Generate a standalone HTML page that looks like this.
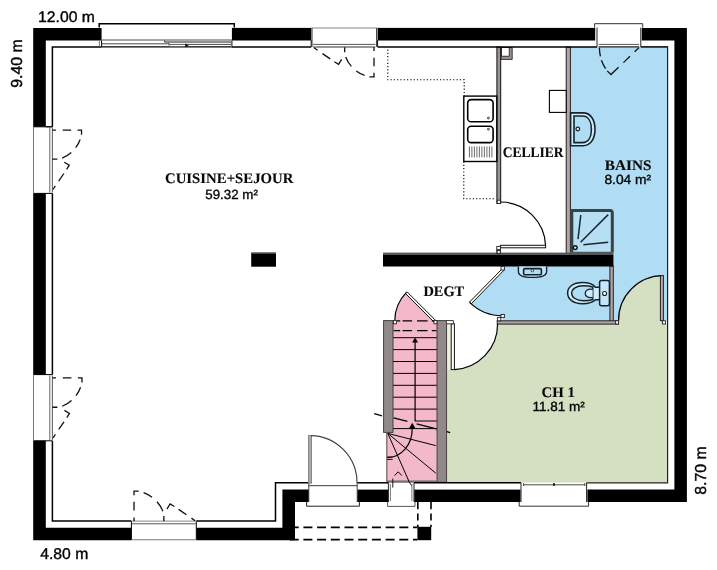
<!DOCTYPE html>
<html lang="fr">
<head>
<meta charset="utf-8">
<title>Plan RDC</title>
<style>
html,body{margin:0;padding:0;background:#fff;}
body{width:717px;height:570px;overflow:hidden;}
svg{display:block;filter:blur(0.4px);}
text{text-rendering:geometricPrecision;}
.dim{font-family:"Liberation Sans",sans-serif;font-size:15.3px;fill:#050505;stroke:#050505;stroke-width:0.38;}
.area{font-family:"Liberation Sans",sans-serif;font-size:13.3px;fill:#050505;stroke:#050505;stroke-width:0.35;}
.room{font-family:"Liberation Serif",serif;font-weight:bold;font-size:14.6px;fill:#0a0a0a;stroke:#0a0a0a;stroke-width:0.12;}
.k{stroke:#000;fill:none;}
.g{stroke:#777;fill:none;}
.dash{stroke:#111;fill:none;stroke-width:1.3;stroke-dasharray:7 4;}
</style>
</head>
<body>
<svg width="717" height="570" viewBox="0 0 717 570">
<rect width="717" height="570" fill="#fff"/>

<!-- FILLS -->
<g id="fills">
  <rect x="570.4" y="47" width="97.3" height="220" fill="#b0ddf4"/>
  <rect x="502.6" y="266" width="165.1" height="55" fill="#b0ddf4"/>
  <path d="M503.6,268.2 H502.7 L469.7,302 A47.5,47.5 0 0 0 502.7,315.8 H503.6 Z" fill="#b0ddf4"/>
  <rect x="447" y="324" width="220.7" height="158.6" fill="#d5e0c3"/>
  <path d="M618.5,321 A44.6,44.6 0 0 1 663,275.6 L663,325 L618.5,325 Z" fill="#d5e0c3"/>
  <path d="M453,323.4 L497.6,323.4 A45.6,45.6 0 0 1 453,369.6 Z" fill="#fff"/>
  <rect x="447.2" y="324" width="4" height="45.6" fill="#eef0dc"/>
  <rect x="393" y="321" width="44" height="112" fill="#f4b9c9"/>
  <rect x="386.6" y="432" width="50" height="49.5" fill="#f4b9c9"/>
  <path d="M435.3,321 L406.5,292.3 A40.6,40.6 0 0 0 394.7,321 Z" fill="#f4b9c9"/>
</g>

<!-- STAIR / PARTITION WALLS (grey) -->
<g id="partitions">
  <rect x="383.6" y="320.6" width="9.4" height="111.8" fill="#918989" stroke="#3a3434" stroke-width="0.9"/>
  <rect x="437" y="320.6" width="9.6" height="161.6" fill="#918989" stroke="#3a3434" stroke-width="0.9"/>
  <rect x="386.2" y="432" width="1.2" height="50" fill="#6a6262"/>
  <rect x="387" y="480.4" width="50" height="2.4" fill="#7a7272"/>
  <!-- cellier left wall -->
  <rect x="496.9" y="47" width="3.8" height="156.4" fill="#9a9494" stroke="#111" stroke-width="1"/>
  <!-- cellier / bains wall -->
  <rect x="566.2" y="47" width="4.2" height="206.5" fill="#b5a2a4" stroke="#222" stroke-width="1"/>
  <!-- wc right wall -->
  <rect x="609.9" y="266" width="3.4" height="56" fill="#b5a2a4" stroke="#222" stroke-width="1"/>
  <!-- wc bottom wall -->
  <rect x="497.2" y="320.8" width="121.2" height="3.3" fill="#b5a2a4" stroke="#222" stroke-width="1"/>
  <!-- duct in cellier -->
  <path d="M501,47.5 H512.2 V59.4 H501 Z" fill="#9a9494" stroke="#111" stroke-width="0.8"/>
  <rect x="501.6" y="47.6" width="7.6" height="8.6" fill="#fff" stroke="#111" stroke-width="0.8"/>
</g>

<!-- OUTER WALLS (black) -->
<g id="walls" fill="#000">
  <path d="M33.2,27.9 H101.6 V40.5 H45.8 V126.8 H33.2 Z"/>
  <rect x="231.9" y="27.9" width="79.3" height="12.6"/>
  <rect x="377.6" y="27.9" width="217.6" height="12.6"/>
  <path d="M641.8,27.9 H686.9 V502 H587.4 V489.6 H674.4 V40.5 H641.8 Z"/>
  <rect x="33.2" y="193.4" width="12.6" height="181.2"/>
  <path d="M33.2,440.8 H45.8 V527.7 H131.2 V540.3 H33.2 Z"/>
  <path d="M196.5,527.7 H282.4 V489.6 H308.8 V502 H295 V540.3 H196.5 Z"/>
  <rect x="357.3" y="489.6" width="31" height="12.4"/>
  <rect x="414.2" y="489.6" width="106.3" height="12.4"/>
  <!-- interior -->
  <rect x="383" y="254.4" width="230.4" height="12.1"/>
  <rect x="251.2" y="252.8" width="24.8" height="13.9"/>
  <rect x="417.4" y="526.8" width="13.8" height="13.4"/>
</g>
<rect x="383" y="252.6" width="230.4" height="2" fill="#555"/>
<rect x="251.2" y="252.4" width="24.8" height="1.4" fill="#555"/>

<!-- INNER WALL FACE LINE -->
<g id="inner" class="k" stroke-width="1.5">
  <path d="M52.4,126.8 V46.9 H101.6"/>
  <path d="M231.9,46.9 H311.2"/>
  <path d="M377.6,46.9 H597"/>
  <path d="M640.8,46.9 H667.6"/>
  <path d="M667.6,46.2 V482.8" stroke="#222" stroke-width="1.2"/>
  <path d="M52.4,193.4 V374.6"/>
  <path d="M52.4,440.8 V521.1 H131.4"/>
  <path d="M196.3,521.1 H275.5 V482.8 H308.6"/>
  <path d="M357.3,482.8 H388.4"/>
  <path d="M414,482.8 H521" stroke-width="1.4"/>
  <path d="M586.6,482.8 H668.2" stroke="#222" stroke-width="1.3"/>
</g>
<!-- wall end caps -->
<g class="k" stroke-width="1">
  <path d="M45.8,126.8 H52.4 M33.2,126.8 H52.4 M33.2,193.4 H52.4 M33.2,374.6 H52.4 M33.2,440.8 H52.4"/>
  <path d="M101.6,40.2 V46.9 M231.9,40.2 V46.9 M311.2,40.2 V46.9 M377.6,40.2 V46.9"/>
  <path d="M131.4,521.1 V540 M196.3,521.1 V540"/>
</g>

<!-- WINDOWS -->
<g id="windows">
  <!-- top sliding window -->
  <g class="k" stroke-width="1">
    <path d="M99.2,27.6 V23.8 H234.3 V27.6" stroke-width="1.5"/>
    <path d="M101.6,46.9 H231.9" stroke-width="1.1"/>
    <path d="M101.6,43.8 H168.8 V44.4 H231.6" stroke="#333" stroke-width="0.9"/>
    <path d="M101.6,40 H231.9" stroke="#888" stroke-width="1.5"/>
    <path d="M164.6,40.6 V42 H231.6" stroke="#222" stroke-width="1"/>
    <path d="M168.8,42.2 V44.2" stroke="#555" stroke-width="0.7"/>
    <rect x="169.2" y="44.5" width="16.4" height="1.9" fill="#fff" stroke="#444" stroke-width="0.6"/>
    <path d="M185.2,43.5 L188.8,45.5 L185.2,47.3 Z" fill="#111" stroke="none"/>
    <path d="M99.4,41 V46.9 H101.6" stroke="#555" stroke-width="0.8"/>
    <path d="M231.4,41 V46.9" stroke="#777" stroke-width="0.8"/>
  </g>
  <!-- top french window -->
  <g class="g" stroke-width="1">
    <path d="M311.2,28 H377.6" stroke="#888" stroke-width="1.2"/>
    <path d="M312,28 V46.9 M376.6,28 V46.9" stroke="#333"/>
    <path d="M313,44.4 H375.4" stroke="#444" stroke-width="0.9"/>
    <path d="M313,47 H375.4" stroke="#333" stroke-width="1.1"/>
  </g>
  <!-- bains window -->
  <g class="k" stroke-width="1">
    <path d="M594.6,27.6 V23.7 H642.7 V27.6" stroke="#333" stroke-width="1"/>
    <path d="M597,27.6 V46.9 M640.8,27.6 V46.9" stroke="#222"/>
    <path d="M598.6,44.4 H639.2" stroke="#444" stroke-width="0.9"/>
    <path d="M598.6,46.9 H639.2" stroke="#222" stroke-width="1.1"/>
  </g>
  <!-- left window 1 -->
  <g class="g" stroke-width="1">
    <path d="M33.5,126.8 V193.4" stroke="#777" stroke-width="1"/>
    <path d="M49.8,127.6 V192.6" stroke="#555" stroke-width="0.9"/>
    <path d="M52.4,127.6 V192.6" stroke="#666" stroke-width="1.1"/>
  </g>
  <!-- left window 2 -->
  <g class="g" stroke-width="1">
    <path d="M33.5,374.6 V440.8" stroke="#777" stroke-width="1"/>
    <path d="M49.8,375.4 V440" stroke="#555" stroke-width="0.9"/>
    <path d="M52.4,375.4 V440" stroke="#666" stroke-width="1.1"/>
  </g>
  <!-- bottom window 1 -->
  <g class="g" stroke-width="1">
    <path d="M131.4,521.1 H196.3" stroke="#888" stroke-width="1"/>
    <path d="M132,523.8 H195.8" stroke="#444" stroke-width="0.9"/>
    <path d="M131.4,539.8 H196.3" stroke="#777" stroke-width="1.1"/>
  </g>
  <!-- entry door frame -->
  <g class="k" stroke-width="1">
    <path d="M308.6,485.7 H357.3" stroke="#222" stroke-width="0.9"/>
    <path d="M308.8,482.8 V502 M357.2,482.8 V502" stroke="#333" stroke-width="0.9"/>
    <path d="M306.6,502 V506.2 H359.4 V502" stroke="#222" stroke-width="1"/>
  </g>
  <!-- stair window -->
  <g class="k" stroke-width="1">
    <path d="M388.4,482.8 V502 M414,482.8 V502" stroke="#222" stroke-width="1"/>
    <path d="M390.4,484 V501 M411.9,484 V501" stroke="#555" stroke-width="0.8"/>
    <path d="M387.6,502 V506.4 H415 V502" stroke="#444" stroke-width="0.9"/>
  </g>
  <!-- CH1 window -->
  <g class="k" stroke-width="1">
    <path d="M521,482.8 V502 M586.6,482.8 V502" stroke="#222" stroke-width="1"/>
    <path d="M523.2,484.8 H585.2" stroke="#333" stroke-width="0.9"/>
    <path d="M554,483 V486" stroke="#111" stroke-width="1.6"/>
    <path d="M523.6,483 V486 M584.8,483 V486" stroke="#333" stroke-width="0.8"/>
    <path d="M519.2,502 V506.2 H588.6 V502" stroke="#333" stroke-width="1"/>
  </g>
</g>

<!-- DASHED SWINGS -->
<g id="swings" stroke="#111" fill="none" stroke-width="1.3">
  <g transform="translate(314,47.5)">
    <path d="M0,0.3 L3.6,2.8 M8.5,6.1 L16.2,11.4 M20.4,14.2 L24.6,16.8 L27.6,11.8"/>
    <path d="M30.7,-0.3 V4.8 M31.7,9.6 A29.4,29.4 0 0 0 37.4,18.9 M42.3,23.4 A29.4,29.4 0 0 0 50.6,27.9"/>
    <path d="M55.4,29.3 H60 V25.2 M60,18.8 V10.2 M60,3.4 V-0.3"/>
  </g>
  <g transform="translate(52.6,189.5) rotate(-90) scale(0.988)">
    <path d="M0,0.3 L3.6,2.8 M8.5,6.1 L16.2,11.4 M20.4,14.2 L24.6,16.8 L27.6,11.8"/>
    <path d="M30.7,-0.3 V4.8 M31.7,9.6 A29.4,29.4 0 0 0 37.4,18.9 M42.3,23.4 A29.4,29.4 0 0 0 50.6,27.9"/>
    <path d="M55.4,29.3 H60 V25.2 M60,18.8 V10.2 M60,3.4 V-0.3"/>
  </g>
  <g transform="translate(52.6,438) rotate(-90) scale(1.002)">
    <path d="M0,0.3 L3.6,2.8 M8.5,6.1 L16.2,11.4 M20.4,14.2 L24.6,16.8 L27.6,11.8"/>
    <path d="M30.7,-0.3 V4.8 M31.7,9.6 A29.4,29.4 0 0 0 37.4,18.9 M42.3,23.4 A29.4,29.4 0 0 0 50.6,27.9"/>
    <path d="M55.4,29.3 H60 V25.2 M60,18.8 V10.2 M60,3.4 V-0.3"/>
  </g>
  <g transform="translate(195.1,521) rotate(180) scale(1.018)">
    <path d="M0,0.3 L3.6,2.8 M8.5,6.1 L16.2,11.4 M20.4,14.2 L24.6,16.8 L27.6,11.8"/>
    <path d="M30.7,-0.3 V4.8 M31.7,9.6 A29.4,29.4 0 0 0 37.4,18.9 M42.3,23.4 A29.4,29.4 0 0 0 50.6,27.9"/>
    <path d="M55.4,29.3 H60 V25.2 M60,18.8 V10.2 M60,3.4 V-0.3"/>
  </g>
  <!-- bains window -->
  <path d="M639,47.6 L634.6,51.8 M630,56.2 L623.4,62.6 M618.6,67.2 L611,74.5 L607.2,70.9"/>
  <path d="M605.6,68.6 A39.4,39.4 0 0 1 601.4,60.2 M600.4,56.4 A39.4,39.4 0 0 1 599.4,47.8"/>
</g>
<!-- porch dashed -->
<g class="k" stroke="#111" stroke-width="1.7" stroke-dasharray="9 4.7">
  <path d="M289.7,527.3 H417.4"/>
  <path d="M289.7,539.7 H417.4"/>
  <path d="M417.8,502 V527 M431,502 V527" stroke-dasharray="7.2 4.2" stroke-width="1.6"/>
</g>
<!-- kitchen dotted -->
<g class="k" stroke="#333" stroke-width="1.1" stroke-dasharray="1.2 2.1">
  <path d="M387.8,49.5 V79.8 H464.2 V96"/>
  <path d="M463.8,161.5 V198.7 H495.5"/>
</g>

<!-- DOORS -->
<g id="doors" class="k" stroke-width="1.1">
  <!-- cellier door -->
  <path d="M500.6,202 A45.2,45.2 0 0 1 545.6,246" stroke-width="1.2"/>
  <rect x="500.6" y="245.3" width="45" height="2.5" fill="#fff" stroke="#111" stroke-width="1"/>
  <rect x="496.8" y="246.4" width="3.6" height="3.4" fill="#fff" stroke="#222" stroke-width="0.9"/>
  <rect x="496.8" y="249.8" width="3.6" height="3.2" fill="#fff" stroke="#222" stroke-width="0.9"/>
  <rect x="497.2" y="200.2" width="3.2" height="3.2" fill="#fff" stroke="#222" stroke-width="0.9"/>
  <!-- wc door -->
  <path d="M502.2,268.8 L469.4,302.2 L471.2,303.8 L503.8,270.4 Z" fill="#fff" stroke="#111" stroke-width="1"/>
  <path d="M469.6,302.4 A47.4,47.4 0 0 0 502.6,315.8" stroke-width="1.2"/>
  <rect x="501" y="266.6" width="3.4" height="3.4" fill="#fff" stroke="#222" stroke-width="0.9"/>
  <rect x="501" y="314.4" width="3.4" height="3.2" fill="#fff" stroke="#222" stroke-width="0.9"/>
  <rect x="497.4" y="317.6" width="3.4" height="3.2" fill="#fff" stroke="#222" stroke-width="0.9"/>
  <rect x="497.2" y="250.6" width="3" height="3" fill="#fff" stroke="#222" stroke-width="0.9"/>
  <!-- DEGT / CH1 door -->
  <rect x="451.2" y="323.8" width="3.2" height="45.8" fill="#fff" stroke="#111" stroke-width="1"/>
  <path d="M454.4,369.6 A45.6,45.6 0 0 0 497.6,324" stroke-width="1.2"/>
  <path d="M447,320.6 H453.4 V323.8 H447" fill="#fff" stroke="#222" stroke-width="0.9"/>
  <!-- stair door -->
  <path d="M435.6,320.4 L407,291.8 L405.4,293.4 L434,322 Z" fill="#fff" stroke="#111" stroke-width="1"/>
  <path d="M406.2,292.6 A40.6,40.6 0 0 0 394.8,320.6" stroke-width="1.2"/>
  <rect x="393.4" y="320.6" width="3" height="3.2" fill="#fff" stroke="#222" stroke-width="0.9"/>
  <rect x="434" y="320.6" width="3" height="3.2" fill="#fff" stroke="#222" stroke-width="0.9"/>
  <!-- bains / CH1 door -->
  <path d="M618.6,320.6 A44.6,44.6 0 0 1 663,275.6" stroke-width="1.3"/>
  <rect x="660.4" y="275.6" width="3" height="45" fill="#b9a9ab" stroke="#222" stroke-width="1"/>
  <rect x="615.6" y="320.8" width="3" height="3.2" fill="#fff" stroke="#222" stroke-width="0.9"/>
  <rect x="662.4" y="320.8" width="3.2" height="3.2" fill="#fff" stroke="#222" stroke-width="0.9"/>
  <!-- entry door -->
  <rect x="308.4" y="435.6" width="3.2" height="47.6" fill="#aaa" stroke="#777" stroke-width="0.8"/>
  <path d="M311,435.6 A47,47 0 0 1 357,483" stroke="#444" stroke-width="1.2"/>
</g>

<!-- STAIRS -->
<g id="stairs" class="k" stroke="#1a1114" stroke-width="1">
  <path d="M397,320.9 H400.2 M402.6,320.9 H412.1 M417,320.9 H427.6 M431.8,320.9 H434" stroke-width="1.2"/>
  <path d="M393.6,330.6 H400.2 M402.6,330.6 H412.1 M417,330.6 H427.6 M431.8,330.6 H436.4" stroke-width="1.2"/>
  <path d="M393.2,337.7 H436.8 M393.2,349.6 H436.8 M393.2,361.5 H436.8 M393.2,373.4 H436.8 M393.2,385.3 H436.8 M393.2,397.2 H436.8 M393.2,409.1 H436.8"/>
  <path d="M415,421 H436.8 M393.2,428.6 H436.8"/>
  <path d="M415.1,341 V421.2" stroke-width="1.2"/>
  <path d="M415.1,337.4 L412,342.6 H418.2 Z" fill="#000" stroke="none"/>
  <!-- break line -->
  <path d="M374.2,413.6 L382,415.8" stroke-width="1.4"/>
  <path d="M393.6,417.8 L407.4,421.4 M416.6,423.8 L436.4,428.8" stroke-width="1.3"/>
  <path d="M446.8,431.6 L450.2,432.6" stroke-width="1.3"/>
  <!-- winders -->
  <path d="M387.8,433.4 L435.8,445.6 M387.8,433.4 L435.8,473.2 M387.8,433.4 L408.8,481"/>
  <path d="M412.2,428 C412.6,445 401,457.4 387.6,457.6" stroke-width="1.2"/>
  <path d="M412.2,422.8 L408.8,428.8 H415.6 Z" fill="#000" stroke="none"/>
  <path d="M387,457 H392.6 M387,459.4 H392.6" stroke-width="0.9"/>
  <path d="M394.6,475.6 L398.2,471.8 L401.8,475.6" stroke-width="1"/>
  <path d="M392.8,478.6 V487.6 M408.6,481 L411.6,485.6" stroke-width="0.9"/>
</g>

<!-- FIXTURES -->
<g id="fixtures" class="k" stroke="#111" stroke-width="1.1">
  <!-- kitchen sink -->
  <rect x="463.8" y="96.1" width="33" height="65.4" fill="#fff" stroke-width="1.4"/>
  <rect x="467.7" y="99.6" width="25.4" height="22.2" rx="3.4" ry="3.4" fill="#fff" stroke-width="1.6"/>
  <rect x="467.7" y="126.2" width="25.4" height="16.4" rx="3.4" ry="3.4" fill="#fff" stroke-width="1.6"/>
  <circle cx="488.4" cy="118" r="1.1" fill="#999" stroke="#444" stroke-width="0.7"/>
  <circle cx="488.4" cy="129.2" r="1.1" fill="#999" stroke="#444" stroke-width="0.7"/>
  <path d="M469.4,146.4 V157.4 M471.9,146.4 V157.4 M474.4,146.4 V157.4 M476.9,146.4 V157.4 M479.4,146.4 V157.4 M481.9,146.4 V157.4 M484.4,146.4 V157.4 M486.9,146.4 V157.4 M489.4,146.4 V157.4 M491.9,146.4 V157.4" stroke="#444" stroke-width="0.8"/>
  <!-- cellier appliance -->
  <rect x="549.4" y="90.4" width="16.8" height="22" fill="#fff" stroke-width="1.1"/>
  <!-- washbasin -->
  <path d="M570.6,112.9 H583 C591.4,112.9 595,121 595,129.3 C595,137.6 591.4,145.7 583,145.7 H570.6 Z" fill="#d0ebf9" stroke="#16222c" stroke-width="1.6"/>
  <path d="M574,116 H582.4 C588.8,116 591.4,122.4 591.4,129.3 C591.4,136.2 588.8,142.6 582.4,142.6 H574 Z" fill="#b0ddf4" stroke="#16222c" stroke-width="1.6"/>
  <circle cx="577.8" cy="129" r="1.8" fill="#fff" stroke="#16222c" stroke-width="1.3"/>
  <!-- shower -->
  <path d="M571.8,252.4 V210.5 H610 Q612.3,210.5 612.3,212.8 V252.4" fill="#b6dff4" stroke="#3a4246" stroke-width="3"/>
  <path d="M571.4,252.4 H612.6" stroke="#555" stroke-width="1.4"/>
  <path d="M578,239.2 L580.8,215 M580.6,242.2 L608.2,214.6 M583.4,244.8 L608.2,242.2" stroke="#1c262c" stroke-width="1.5"/>
  <circle cx="575.2" cy="247.6" r="1.9" fill="#cfe9f7" stroke="#111" stroke-width="1.4"/>
  <!-- lave-mains -->
  <path d="M518.4,266.6 V271.4 C518.4,275.4 524,277.4 532.4,277.4 C540.8,277.4 546.6,275.4 546.6,271.4 V266.6" fill="#c4e6f8" stroke="#16222c" stroke-width="1.4"/>
  <rect x="523.6" y="268.6" width="17.8" height="6.2" rx="1.2" fill="#b0ddf4" stroke="#16222c" stroke-width="1.6"/>
  <circle cx="532.4" cy="270.6" r="1.2" fill="#fff" stroke="#16222c" stroke-width="0.9"/>
  <!-- toilet -->
  <path d="M599.8,287.2 L595.4,287.2 C593,284 589,282.5 582.4,282.5 C573.2,282.5 567.6,287 567.6,293.1 C567.6,299.2 573.2,303.7 582.4,303.7 C589,303.7 593,302.4 595.4,299.8 L599.8,299.8 Z" fill="#d3ecf9" stroke="#14222c" stroke-width="1.5"/>
  <path d="M592.8,287 C590,286.1 587,285.8 583.4,285.8 C576.2,285.8 571.7,289 571.7,293.2 C571.7,297.4 576.2,300.7 583.4,300.7 C587,300.7 590,300.4 592.8,299.5 Z" fill="#b0ddf4" stroke="#14222c" stroke-width="1.4"/>
  <path d="M592.6,289.4 C588,288.6 585.2,290.6 585.2,293.4 C585.2,296.2 588,298.2 592.6,297.4" fill="#cfeaf8" stroke="#14222c" stroke-width="1.3"/>
  <rect x="599.6" y="280.4" width="9.8" height="25.4" rx="2" fill="#c4e6f8" stroke="#14222c" stroke-width="1.5"/>
  <circle cx="604.6" cy="293.5" r="2" fill="#fff" stroke="#14222c" stroke-width="1.1"/>
</g>

<!-- TEXT -->
<g id="labels">
  <text class="dim" x="38.1" y="21.8" textLength="56.9" lengthAdjust="spacingAndGlyphs">12.00 m</text>
  <text class="dim" style="font-size:15.9px" transform="translate(22.2,87.8) rotate(-90)" textLength="48.4" lengthAdjust="spacingAndGlyphs">9.40 m</text>
  <text class="dim" style="font-size:15.6px" x="40.2" y="558.6" textLength="48.1" lengthAdjust="spacingAndGlyphs">4.80 m</text>
  <text class="dim" style="font-size:15.9px" transform="translate(705.7,494.7) rotate(-90)" textLength="48.4" lengthAdjust="spacingAndGlyphs">8.70 m</text>
  <text class="room" x="165" y="183.2" textLength="128.4" lengthAdjust="spacingAndGlyphs">CUISINE+SEJOUR</text>
  <text class="area" x="205.3" y="199.1" textLength="52.6" lengthAdjust="spacingAndGlyphs">59.32 m²</text>
  <text class="room" x="502.7" y="157" textLength="60.9" lengthAdjust="spacingAndGlyphs">CELLIER</text>
  <text class="room" x="604.8" y="170.2" textLength="46.6" lengthAdjust="spacingAndGlyphs">BAINS</text>
  <text class="area" x="604.4" y="183.8" textLength="46.8" lengthAdjust="spacingAndGlyphs">8.04 m²</text>
  <text class="room" x="423.4" y="295.8" textLength="40.8" lengthAdjust="spacingAndGlyphs">DEGT</text>
  <text class="room" x="541.6" y="397.2" textLength="33.4" lengthAdjust="spacingAndGlyphs">CH 1</text>
  <text class="area" x="532.4" y="411.2" textLength="52.4" lengthAdjust="spacingAndGlyphs">11.81 m²</text>
</g>

</svg>
</body>
</html>
